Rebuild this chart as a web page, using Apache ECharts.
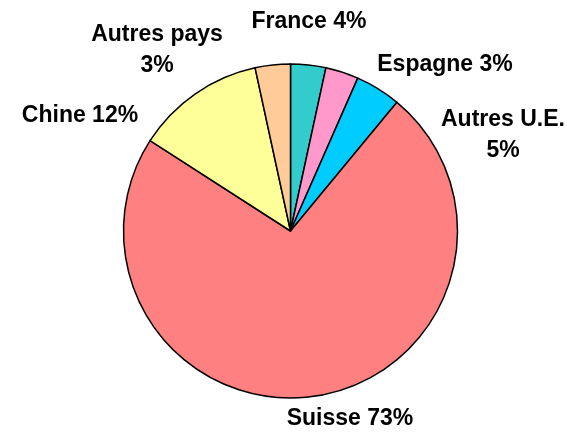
<!DOCTYPE html>
<html>
<head>
<meta charset="utf-8">
<script src="https://cdn.jsdelivr.net/npm/echarts@6/dist/echarts.min.js"></script>
<style>
  html, body { margin: 0; padding: 0; background: #fff; }
  #chart { width: 567px; height: 432px; }
</style>
</head>
<body>
<div id="chart"></div>
<script>
// pays, parts mesurees sur le camembert, pourcentages affiches
var pays = ['France', 'Espagne', 'Autres U.E.', 'Suisse', 'Chine', 'Autres pays'];
var parts = [3.4, 3.2, 4.4, 73.1, 12.5, 3.4];
var pourcents = ['4%', '3%', '5%', '73%', '12%', '3%'];
var couleurs = ['#33CCCC', '#FF99CC', '#00CCFF', '#FF8080', '#FFFF99', '#FFCC99'];

// position des etiquettes (centre du texte), comme sur l'original
var posEtiquettes = [
  [309, 22],
  [445, 65],
  [503, 135],
  [350, 419],
  [80, 116],
  [157, 50]
];
var deuxLignes = [false, false, true, false, false, true];

var myChart = echarts.init(document.getElementById('chart'));

var donnees = [];
for (var i = 0; i < pays.length; i++) {
  donnees.push({
    name: pays[i],
    value: parts[i],
    itemStyle: { color: couleurs[i] }
  });
}

var option = {
  animation: false,
  backgroundColor: '#fff',
  series: [
    {
      type: 'pie',
      center: [290.5, 231],
      radius: 167,
      startAngle: 90,
      clockwise: true,
      avoidLabelOverlap: false,
      data: donnees,
      itemStyle: {
        borderColor: '#000',
        borderWidth: 1.5
      },
      label: {
        show: true,
        position: 'outside',
        fontFamily: 'Liberation Sans, Arial, sans-serif',
        fontWeight: 'bold',
        fontSize: 23,
        color: '#000',
        lineHeight: 31,
        formatter: function (p) {
          var sep = deuxLignes[p.dataIndex] ? '\n' : ' ';
          return p.name + sep + pourcents[p.dataIndex];
        }
      },
      labelLine: { show: false },
      labelLayout: function (params) {
        var pos = posEtiquettes[params.dataIndex];
        return {
          x: pos[0],
          y: pos[1],
          align: 'center',
          verticalAlign: 'middle'
        };
      },
      emphasis: { disabled: true }
    }
  ]
};

myChart.setOption(option);
</script>
</body>
</html>
